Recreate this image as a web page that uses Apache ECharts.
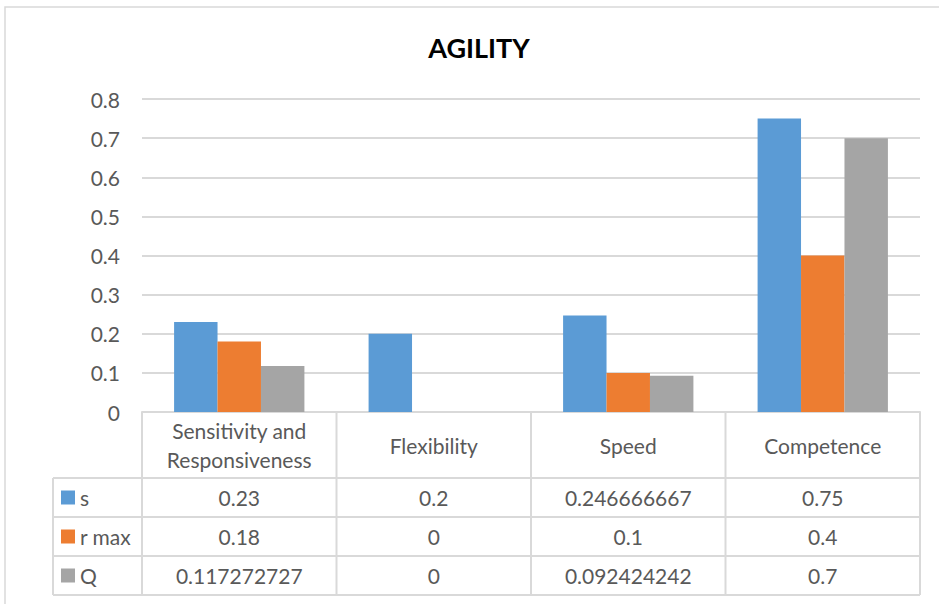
<!DOCTYPE html>
<html>
<head>
<meta charset="utf-8">
<script src="https://cdn.jsdelivr.net/npm/echarts@6/dist/echarts.min.js"></script>
<style>
  html, body { margin: 0; padding: 0; background: #fff; }
  #chart { width: 939px; height: 604px; }
</style>
</head>
<body>
<div id="chart"></div>
<script>
// data
const categories = ['Sensitivity and\nResponsiveness', 'Flexibility', 'Speed', 'Competence'];
const seriesNames = ['s', 'r max', 'Q'];
const sValues = [0.23, 0.2, 0.246666667, 0.75];
const rMaxValues = [0.18, 0, 0.1, 0.4];
const qValues = [0.117272727, 0, 0.092424242, 0.7];
const yTicks = [0, 0.1, 0.2, 0.3, 0.4, 0.5, 0.6, 0.7, 0.8];

const colors = ['#5B9BD5', '#ED7D31', '#A5A5A5'];
const allValues = [sValues, rMaxValues, qValues];
const FONT = 'Lato, "Open Sans", sans-serif';
const FS = 21;
const lineColor = '#d9d9d9';
const textColor = '#595959';

// layout
const W = 939, H = 604;
const gridLeft = 142, gridRight = 920, gridTop = 99, axisY = 412;
const catRowH = 66, rowH = 39, keyLeft = 53;

const chart = echarts.init(document.getElementById('chart'), null, { renderer: 'svg' });

// data table under the plot (drawn as graphic)
const buildTable = () => {
  const els = [];
  const colW = (gridRight - gridLeft) / categories.length;
  const tableTop = axisY + catRowH;
  const tableBottom = tableTop + rowH * seriesNames.length;
  const line = (x1, y1, x2, y2) => ({
    type: 'line', silent: true,
    shape: { x1, y1, x2, y2 },
    style: { stroke: lineColor, lineWidth: 2 }
  });
  // horizontal lines
  for (let r = 0; r <= seriesNames.length; r++) {
    const y = tableTop + r * rowH;
    els.push(line(keyLeft, y, gridRight, y));
  }
  // vertical lines
  els.push(line(keyLeft, tableTop, keyLeft, tableBottom));
  for (let c = 0; c <= categories.length; c++) {
    const x = gridLeft + c * colW;
    els.push(line(x, axisY, x, tableBottom));
  }
  seriesNames.forEach((name, r) => {
    const cy = tableTop + r * rowH + rowH / 2;
    els.push({
      type: 'rect', silent: true,
      shape: { x: keyLeft + 8, y: cy - 7, width: 14, height: 14 },
      style: { fill: colors[r] }
    });
    els.push({
      type: 'text', silent: true, x: keyLeft + 27, y: cy,
      style: { text: name, fill: textColor, font: FS + 'px ' + FONT, verticalAlign: 'middle', align: 'left' }
    });
    allValues[r].forEach((v, c) => {
      els.push({
        type: 'text', silent: true, x: gridLeft + c * colW + colW / 2, y: cy,
        style: { text: String(v), fill: textColor, font: FS + 'px ' + FONT, verticalAlign: 'middle', align: 'center' }
      });
    });
  });
  // outer chart border
  els.push({
    type: 'rect', silent: true,
    shape: { x: 5, y: 7, width: W, height: H },
    style: { fill: 'none', stroke: lineColor, lineWidth: 1.5 }
  });
  // title, centred over the plot like the original
  els.push({
    type: 'text', silent: true, x: 479, y: 47,
    style: { text: 'AGILITY', fill: '#000', font: 'bold 27px ' + FONT, align: 'center', verticalAlign: 'middle' }
  });
  return els;
};

const option = {
  backgroundColor: '#fff',
  animation: false,
  grid: {
    left: gridLeft,
    right: W - gridRight,
    top: gridTop,
    bottom: H - axisY,
    containLabel: false
  },
  xAxis: {
    type: 'category',
    data: categories,
    axisLine: { lineStyle: { color: lineColor, width: 2 } },
    axisTick: { show: false },
    axisLabel: {
      interval: 0,
      margin: catRowH / 2,
      verticalAlign: 'middle',
      fontFamily: FONT,
      fontSize: FS,
      lineHeight: 29,
      color: textColor
    }
  },
  yAxis: {
    type: 'value',
    min: yTicks[0],
    max: yTicks[yTicks.length - 1],
    interval: 0.1,
    axisLine: { show: false },
    axisTick: { show: false },
    splitLine: { lineStyle: { color: lineColor, width: 2 } },
    axisLabel: {
      margin: 22,
      fontFamily: FONT,
      fontSize: FS,
      color: textColor,
      formatter: v => String(Math.round(v * 10) / 10)
    }
  },
  series: seriesNames.map((name, i) => ({
    name,
    type: 'bar',
    data: allValues[i],
    barGap: '0%',
    barCategoryGap: '33%',
    itemStyle: { color: colors[i] }
  })),
  graphic: buildTable()
};

chart.setOption(option);
</script>
</body>
</html>
